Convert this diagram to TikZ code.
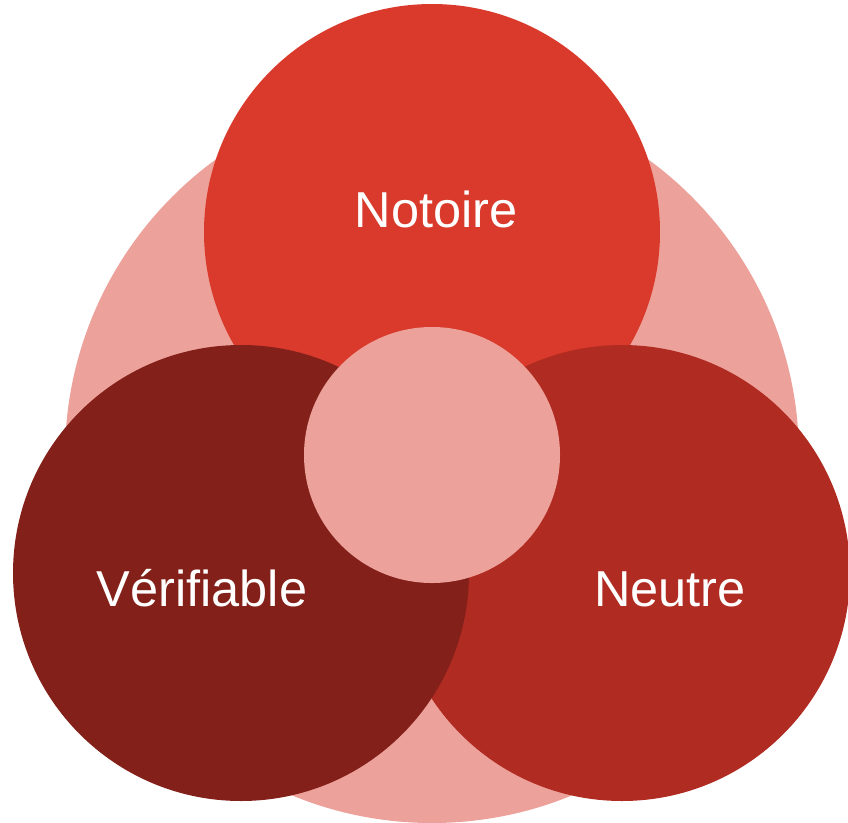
\documentclass[tikz,border=0pt]{standalone}
\usepackage{fontspec}
\setmainfont{Liberation Sans}
\definecolor{pinkc}{HTML}{ECA29B}
\definecolor{topc}{HTML}{D93A2B}
\definecolor{rightc}{HTML}{B02B21}
\definecolor{leftc}{HTML}{832019}
\tikzset{
  disc/.style={circle, inner sep=0pt, outer sep=0pt, draw=none},
  lbl/.style={text=white, font=\fontsize{50.5}{60}\selectfont, anchor=base, inner sep=0pt}
}
\begin{document}
\begin{tikzpicture}[x=1pt,y=-1pt]
\useasboundingbox (0,0) rectangle (848,822);
\node[disc, fill=pinkc, minimum size=734pt] (big) at (432,456) {};
\node[disc, fill=topc, minimum size=456pt] (top) at (432,232) {};
\node[disc, fill=rightc, minimum size=456pt] (right) at (622,573) {};
\node[disc, fill=leftc, minimum size=456pt] (left) at (241,573) {};
\node[disc, fill=pinkc, minimum size=256pt] (mid) at (432,455) {};
\node[lbl] (tl) at (436,227) {Notoire};
\node[lbl] (ll) at (202,606) {Vérifiable};
\node[lbl] (rl) at (670,606) {Neutre};
\end{tikzpicture}
\end{document}
